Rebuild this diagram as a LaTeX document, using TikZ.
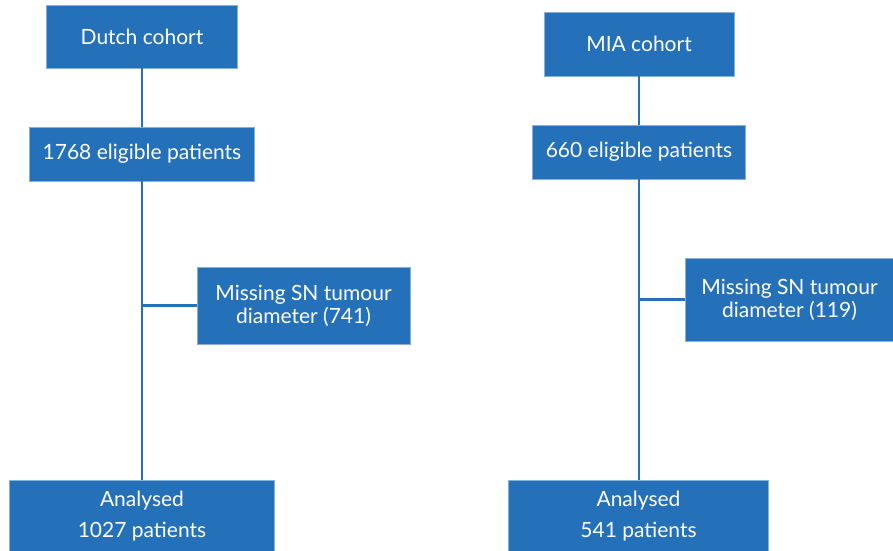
\documentclass[tikz,border=0pt]{standalone}
\usepackage{fontspec}
\setmainfont{Lato}
\usepackage{tikz}
\usetikzlibrary{positioning}

\definecolor{boxblue}{HTML}{2471BA}
\tikzset{
  flowbox/.style={fill=boxblue, draw=boxblue!55!white, line width=0.8pt, text=white,
    align=center, inner sep=0pt, font=\fontsize{21}{31}\selectfont},
  tightbox/.style={flowbox, font=\fontsize{21}{23}\selectfont},
  link/.style={draw=boxblue, line width=2.4pt}
}

\begin{document}
\begin{tikzpicture}[x=1pt, y=-1pt]
                \useasboundingbox (0,0) rectangle (893,550);
                % Dutch cohort
                \node [flowbox, minimum width=191pt, minimum height=63pt] (dutch) at (142,36.5) {Dutch cohort};
                \node [flowbox, minimum width=225pt, minimum height=54pt] (eligA) at (142,154) {1768 eligible patients};
                \node [tightbox, minimum width=213pt, minimum height=77pt] (missA) at (303.5,305.5) {Missing SN tumour\\diameter (741)};
                \node [flowbox, minimum width=265pt, minimum height=72pt] (analA) at (142,516) {Analysed\\1027 patients};
                \draw [link] (dutch) -- (eligA) (eligA) -- (analA);
                \draw [link] (eligA.south |- missA.west) -- (missA.west);
                % MIA cohort
                \node [flowbox, minimum width=190pt, minimum height=64pt] (mia) at (639,44) {MIA cohort};
                \node [flowbox, minimum width=213pt, minimum height=54pt] (eligB) at (639,152) {660 eligible patients};
                \node [tightbox, minimum width=208pt, minimum height=83pt] (missB) at (789.5,299.5) {Missing SN tumour\\diameter (119)};
                \node [flowbox, minimum width=260pt, minimum height=72pt] (analB) at (638.5,516) {Analysed\\541 patients};
                \draw [link] (mia) -- (eligB) (eligB) -- (analB.north -| eligB.south);
                \draw [link] (eligB.south |- missB.west) -- (missB.west);
            \end{tikzpicture}
\end{document}
